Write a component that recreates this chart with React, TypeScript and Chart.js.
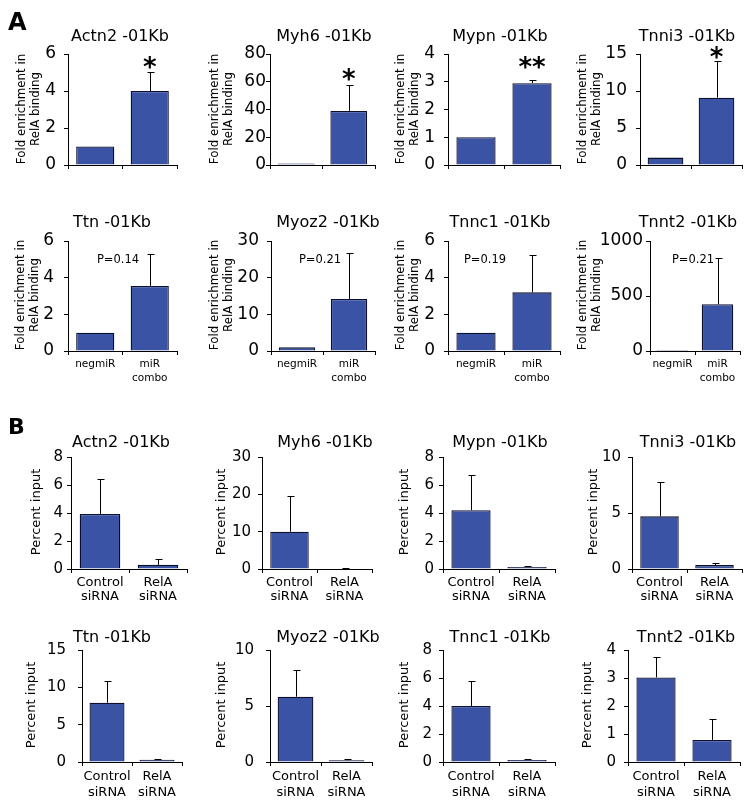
import React, { useEffect, useRef } from "react";
import { Chart, registerables } from "chart.js";
Chart.register(...registerables);

const FONT = "'DejaVu Sans', 'Liberation Sans', sans-serif";
const BAR = "#3a53a5";
const EDGE = "#0c0f2e";

// ---------------- data ----------------
const genes = ["Actn2 -01Kb", "Myh6 -01Kb", "Mypn -01Kb", "Tnni3 -01Kb", "Ttn -01Kb", "Myoz2 -01Kb", "Tnnc1 -01Kb", "Tnnt2 -01Kb"];
const categoriesA: (string | string[])[] = ["negmiR", ["miR", "combo"]];
const categoriesB: (string | string[])[] = [["Control", "siRNA"], ["RelA", "siRNA"]];
const yAxisTitleA = ["Fold enrichment in", "RelA binding"];
const yAxisTitleB = ["Percent input"];

const foldEnrichment = [[1, 4.0], [1, 39], [1, 2.95], [1, 9.1], [1, 3.55], [1, 14.2], [1, 3.2], [1, 425]];
const foldEnrichmentErr = [[0, 1.05], [0, 19], [0, 0.1], [0, 4.9], [0, 1.75], [0, 12.6], [0, 2.05], [0, 425]];
const yMaxA = [6, 80, 4, 15, 6, 30, 6, 1000];
const yStepA = [2, 20, 1, 5, 2, 10, 2, 500];
const starsA = ["*", "*", "**", "*", "", "", "", ""];
const pValuesA = ["", "", "", "", "P=0.14", "P=0.21", "P=0.19", "P=0.21"];

const percentInput = [[3.93, 0.3], [10, 0.15], [4.2, 0.15], [4.7, 0.35], [7.94, 0.3], [5.83, 0.15], [4.0, 0.15], [3.02, 0.79]];
const percentInputErr = [[2.5, 0.4], [9.5, 0.1], [2.55, 0.07], [3.1, 0.15], [2.9, 0.15], [2.37, 0.1], [1.8, 0.05], [0.74, 0.75]];
const yMaxB = [8, 30, 8, 10, 15, 10, 8, 4];
const yStepB = [2, 10, 2, 5, 5, 5, 2, 1];

// ---------------- layout ----------------
type Row = { top: number; bot: number; titleBase: number; yTitleY: number; cy: number; ch: number; catLH: number; catPad: number; showCats: boolean };
const rowsA: Row[] = [
  { top: 54, bot: 165, titleBase: 40.5, yTitleY: 109, cy: 0, ch: 192, catLH: 14, catPad: 2, showCats: false },
  { top: 241, bot: 351, titleBase: 227, yTitleY: 295, cy: 195, ch: 200, catLH: 14, catPad: 2, showCats: true },
];
const rowsB: Row[] = [
  { top: 457, bot: 569, titleBase: 447, yTitleY: 512, cy: 408, ch: 198, catLH: 14, catPad: 3, showCats: true },
  { top: 650, bot: 762, titleBase: 641.5, yTitleY: 705, cy: 615, ch: 191, catLH: 16, catPad: 3, showCats: true },
];
const axisXA = [68, 270, 448, 640, 68, 271, 448, 650];
const rightXA = [177, 375, 560, 742, 177, 375, 560, 740];
const titleXA = [120, 324, 500, 687, 112, 328, 500, 688];
const yTitleXA = [29, 222, 408, 590, 28, 222, 408, 590];
const tickPadA = [8, 0, 9, 9, 10, 8, 9, 3];
const starOffA = [9, 10, 18, 9, 0, 0, 0, 0];
const pXA = [0, 0, 0, 0, 118, 320, 485, 693];

const axisXB = [71, 262, 443, 632, 82, 270, 443, 628];
const rightXB = [187, 372, 555, 742, 182, 372, 555, 740];
const titleXB = [121, 325, 500, 688, 112, 328, 500, 686];
const yTitleXB = [37, 222, 405, 594, 32, 222, 405, 588];
const tickPadB = [4, 7, 5, 7, 12, 12, 7, 8];

type PanelProps = {
  title: string; cats: (string | string[])[]; means: number[]; errs: number[];
  yMax: number; yStep: number; star: string; starOff: number; pText: string; pX: number;
  axisX: number; rightX: number; titleX: number; yTitle: string[]; yTitleX: number;
  yTitleSize: number; yTitleLH: number; row: Row; tickSize: number; catSize: number; tickPad: number;
  letter?: string; letterY?: number; letterSize?: number;
};

function Panel(p: PanelProps) {
  const ref = useRef<HTMLCanvasElement>(null);
  const cx = p.axisX - 75;
  const cw = p.rightX + 25 - cx;
  const { cy, ch } = p.row;

  useEffect(() => {
    const canvas = ref.current!;
    const overlay = {
      id: "overlay",
      afterDatasetsDraw(chart: any) {
        const ctx = chart.ctx as CanvasRenderingContext2D;
        const ys = chart.scales.y;
        const meta = chart.getDatasetMeta(0);
        ctx.save();
        ctx.strokeStyle = "#000";
        ctx.lineWidth = 1;
        meta.data.forEach((bar: any, i: number) => {
          const e = p.errs[i];
          if (!e) return;
          const x = Math.round(bar.x) + 0.5;
          const y0 = ys.getPixelForValue(p.means[i]);
          const y1 = Math.round(ys.getPixelForValue(p.means[i] + e)) + 0.5;
          ctx.beginPath();
          ctx.moveTo(x, y0);
          ctx.lineTo(x, y1);
          ctx.moveTo(x - 3, y1);
          ctx.lineTo(x + 4, y1);
          ctx.stroke();
        });
        ctx.restore();
      },
      afterDraw(chart: any) {
        const ctx = chart.ctx as CanvasRenderingContext2D;
        ctx.save();
        ctx.fillStyle = "#000";
        ctx.font = `16px ${FONT}`;
        ctx.textAlign = "center";
        ctx.textBaseline = "alphabetic";
        ctx.fillText(p.title, p.titleX - cx, p.row.titleBase - cy);

        ctx.save();
        ctx.translate(p.yTitleX - cx, p.row.yTitleY - cy);
        ctx.rotate(-Math.PI / 2);
        ctx.font = `${p.yTitleSize}px ${FONT}`;
        ctx.textBaseline = "middle";
        ctx.textAlign = "center";
        const n = p.yTitle.length;
        p.yTitle.forEach((t, i) => ctx.fillText(t, 0, (i - (n - 1) / 2) * p.yTitleLH));
        ctx.restore();

        if (p.star) {
          const ys = chart.scales.y;
          const bar = chart.getDatasetMeta(0).data[1];
          const top = ys.getPixelForValue(p.means[1] + p.errs[1]);
          ctx.font = `bold 26px ${FONT}`;
          const m = ctx.measureText(p.star);
          const yc = top - p.starOff;
          ctx.textAlign = "center";
          ctx.textBaseline = "alphabetic";
          ctx.fillText(p.star, bar.x, yc + (m.actualBoundingBoxAscent - m.actualBoundingBoxDescent) / 2);
        }
        if (p.pText) {
          ctx.font = `11.5px ${FONT}`;
          ctx.textAlign = "center";
          ctx.textBaseline = "middle";
          ctx.fillText(p.pText, p.pX - cx, p.row.top + 19 - cy);
        }
        if (p.letter) {
          ctx.font = `bold ${p.letterSize}px ${FONT}`;
          ctx.textAlign = "left";
          ctx.textBaseline = "alphabetic";
          ctx.fillText(p.letter, 8 - cx, (p.letterY as number) - cy);
        }
        ctx.restore();
      },
    };

    const chart = new Chart(canvas, {
      type: "bar",
      data: {
        labels: p.cats as any,
        datasets: [{
          data: p.means, backgroundColor: BAR, borderColor: EDGE, borderWidth: 1.3,
          barPercentage: 0.7, categoryPercentage: 1,
        }],
      },
      options: {
        animation: false, responsive: false, maintainAspectRatio: false, devicePixelRatio: 1,
        events: [],
        layout: { padding: { left: 0, top: p.row.top - cy, right: cx + cw - p.rightX, bottom: 0 } },
        plugins: { legend: { display: false }, tooltip: { enabled: false }, title: { display: false } },
        scales: {
          x: {
            offset: true,
            grid: { offset: true, drawOnChartArea: false, drawTicks: true, tickLength: 4, color: "#000", lineWidth: 1 },
            border: { display: true, color: "#000", width: 1 },
            ticks: {
              display: p.row.showCats,
              color: "#000", font: { family: FONT, size: p.catSize, lineHeight: `${p.row.catLH}px` as any },
              padding: p.row.catPad, maxRotation: 0, minRotation: 0, autoSkip: false,
            },
            afterFit: (s: any) => { s.height = cy + ch - p.row.bot; },
          },
          y: {
            min: 0, max: p.yMax,
            grid: { drawOnChartArea: false, drawTicks: true, tickLength: 4, color: "#000", lineWidth: 1 },
            border: { display: true, color: "#000", width: 1 },
            ticks: {
              stepSize: p.yStep, color: "#000", font: { family: FONT, size: p.tickSize },
              padding: p.tickPad, callback: (v: any) => String(v),
            },
            afterFit: (s: any) => { s.width = p.axisX - cx; },
          },
        },
      },
      plugins: [overlay as any],
    });
    return () => chart.destroy();
  }, []);

  return (
    <canvas ref={ref} width={cw} height={ch}
      style={{ position: "absolute", left: cx, top: cy, width: cw, height: ch }} />
  );
}

export default function App() {
  const panels: PanelProps[] = [];
  for (let i = 0; i < 8; i++) {
    panels.push({
      title: genes[i], cats: categoriesA, means: foldEnrichment[i], errs: foldEnrichmentErr[i],
      yMax: yMaxA[i], yStep: yStepA[i], star: starsA[i], starOff: starOffA[i], pText: pValuesA[i], pX: pXA[i],
      axisX: axisXA[i], rightX: rightXA[i], titleX: titleXA[i], yTitle: yAxisTitleA, yTitleX: yTitleXA[i],
      yTitleSize: 11.8, yTitleLH: 14, row: rowsA[Math.floor(i / 4)], tickSize: 17, catSize: 10.5, tickPad: tickPadA[i],
      letter: i === 0 ? "A" : undefined, letterY: 30, letterSize: 24,
    });
  }
  for (let i = 0; i < 8; i++) {
    panels.push({
      title: genes[i], cats: categoriesB, means: percentInput[i], errs: percentInputErr[i],
      yMax: yMaxB[i], yStep: yStepB[i], star: "", starOff: 0, pText: "", pX: 0,
      axisX: axisXB[i], rightX: rightXB[i], titleX: titleXB[i], yTitle: yAxisTitleB, yTitleX: yTitleXB[i],
      yTitleSize: 13, yTitleLH: 14, row: rowsB[Math.floor(i / 4)], tickSize: 15, catSize: 13, tickPad: tickPadB[i],
      letter: i === 0 ? "B" : undefined, letterY: 434, letterSize: 22,
    });
  }
  return (
    <div style={{ position: "absolute", left: 0, top: 0, width: 751, height: 806, background: "#fff", overflow: "hidden" }}>
      {panels.map((p, i) => <Panel key={i} {...p} />)}
    </div>
  );
}
